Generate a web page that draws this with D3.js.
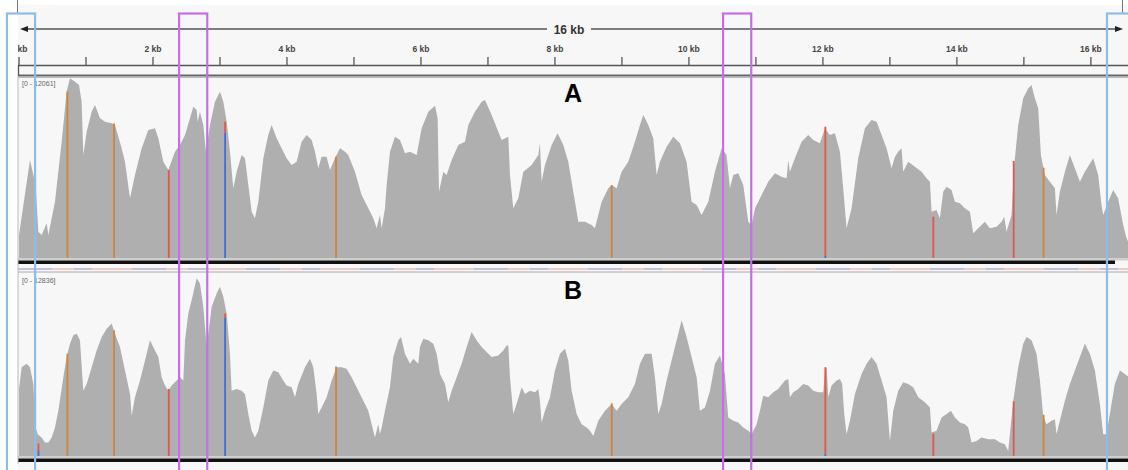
<!DOCTYPE html>
<html>
<head>
<meta charset="utf-8">
<title>mtDNA coverage A / B</title>
<script src="https://d3js.org/d3.v7.min.js"></script>
<style>
  body { margin: 0; background: #fff; font-family: 'Liberation Sans', Arial, sans-serif; }
  .tick-label { font-size: 8.5px; font-weight: bold; fill: #444; text-anchor: middle; }
  .span-label { font-size: 12px; font-weight: bold; fill: #333; text-anchor: middle; }
  .track-title { font-size: 25px; font-weight: bold; fill: #000; text-anchor: middle; }
  .range-label { font-size: 7px; fill: #666; }
  .cov { fill: #afafaf; }
</style>
</head>
<body>
<div id="chart"></div>
<script>
// genome length (bp) and ruler ticks
var genomeLength = 16569;
var tickKb = d3.range(0, 17);
var tickLabels = ["0 kb", "2 kb", "4 kb", "6 kb", "8 kb", "10 kb", "12 kb", "14 kb", "16 kb"];
var spanLabel = "16 kb";

var trackNames = ["A", "B"];
var trackRange = ["[0 - 12061]", "[0 - 12836]"];
var trackMax = [12061, 12836];

// coverage track A (position bp, depth)
var posA = [0, 164, 249, 289, 338, 413, 438, 537, 637, 711, 761, 836, 896, 935, 960, 1010, 1085, 1134, 1209, 1284,
  1383, 1433, 1532, 1582, 1657, 1731, 1831, 1930, 2030, 2080, 2154, 2229, 2328, 2403, 2478, 2552, 2602, 2652, 2667, 2701,
  2751, 2791, 2851, 2925, 3000, 3050, 3100, 3149, 3199, 3249, 3323, 3373, 3423, 3473, 3522, 3572, 3647, 3721, 3771, 3846,
  3920, 3995, 4070, 4144, 4219, 4294, 4368, 4418, 4468, 4517, 4592, 4642, 4716, 4791, 4866, 4915, 5015, 5114, 5214, 5289,
  5338, 5388, 5413, 5463, 5488, 5538, 5612, 5687, 5762, 5836, 5936, 6010, 6110, 6209, 6249, 6269, 6334, 6383, 6458, 6558,
  6657, 6707, 6806, 6906, 6956, 7055, 7155, 7204, 7304, 7329, 7378, 7453, 7528, 7652, 7752, 7776, 7801, 7851, 7951, 8040,
  8125, 8199, 8274, 8349, 8448, 8548, 8597, 8697, 8796, 8846, 8921, 8995, 9095, 9194, 9269, 9319, 9393, 9468, 9518, 9567,
  9667, 9766, 9866, 9965, 10040, 10115, 10189, 10289, 10388, 10488, 10562, 10612, 10662, 10736, 10811, 10886, 10936, 10986, 11085, 11184,
  11284, 11383, 11458, 11483, 11507, 11582, 11682, 11781, 11856, 11955, 12030, 12104, 12179, 12254, 12303, 12353, 12428, 12527, 12627, 12726,
  12801, 12876, 12950, 13025, 13075, 13124, 13174, 13199, 13273, 13373, 13473, 13547, 13597, 13622, 13696, 13746, 13796, 13846, 13920, 13970,
  14045, 14119, 14194, 14244, 14318, 14418, 14492, 14592, 14667, 14706, 14741, 14816, 14856, 14915, 14990, 15065, 15114, 15164, 15214, 15254,
  15313, 15388, 15463, 15487, 15537, 15612, 15686, 15761, 15836, 15910, 16035, 16109, 16159, 16184, 16258, 16333, 16407, 16482, 16532, 16569];
var covA = [1541, 6565, 4890, 1764, 1541, 2322, 1541, 3774, 7793, 11143, 12036, 11813, 11590, 10473, 6900, 8463, 9803, 10250, 9357, 9133,
  9021, 8910, 7347, 6453, 3997, 5560, 7347, 8575, 8686, 8016, 6453, 5895, 7123, 7570, 8240, 9357, 10138, 9915, 9133, 9803,
  8910, 7123, 8910, 10473, 11143, 10473, 9133, 7123, 4667, 5783, 6900, 6677, 4890, 3104, 2657, 3774, 6677, 8240, 8910, 8016,
  7347, 6677, 6230, 6453, 7793, 8240, 7905, 7123, 6007, 6788, 6788, 5895, 6677, 7347, 7123, 6900, 5783, 4220, 3327, 2657,
  1987, 2880, 1987, 3327, 4890, 7123, 8128, 7905, 7012, 7123, 6900, 8686, 9803, 10205, 9357, 4444, 5783, 5560, 6565, 7570,
  7793, 8910, 9803, 10473, 10584, 9580, 8463, 7905, 8128, 5560, 3327, 3997, 5783, 6230, 6900, 7682, 5114, 6230, 7570, 8351,
  7570, 6453, 4444, 2434, 2434, 2211, 1987, 3774, 4667, 4890, 4667, 5783, 6453, 7793, 8910, 9580, 8910, 8016, 5560, 6453,
  7458, 8128, 7682, 6453, 3774, 3550, 2880, 3774, 5783, 7347, 6900, 4667, 5560, 5672, 4890, 2434, 2211, 3327, 4220, 5114,
  5672, 5449, 5337, 6565, 5783, 6677, 7793, 8240, 7905, 7682, 8686, 8240, 8351, 7123, 4667, 1987, 3327, 6677, 8686, 9245,
  9133, 8240, 7347, 6007, 6788, 7123, 7347, 5783, 6453, 6118, 5783, 5337, 5114, 3104, 3216, 2657, 4444, 4779, 4555, 3774,
  3662, 3327, 3104, 1652, 1987, 2434, 1987, 2099, 2434, 2769, 1764, 2880, 6230, 8910, 10696, 11366, 11590, 10696, 10026, 6900,
  5560, 5114, 4667, 2880, 4444, 5783, 6900, 6007, 5114, 5783, 6677, 5560, 3550, 2880, 3774, 4555, 3997, 2211, 1317, 1000];

// coverage track B (position bp, depth)
var posB = [0, 40, 114, 164, 214, 249, 279, 338, 388, 438, 488, 537, 587, 662, 711, 761, 811, 861, 910, 960,
  1010, 1085, 1159, 1234, 1308, 1383, 1433, 1507, 1582, 1657, 1682, 1731, 1806, 1881, 1955, 2030, 2080, 2129, 2179, 2229,
  2279, 2353, 2403, 2453, 2478, 2527, 2577, 2652, 2701, 2751, 2801, 2876, 2950, 3000, 3050, 3100, 3149, 3174, 3249, 3323,
  3373, 3423, 3473, 3522, 3572, 3647, 3721, 3796, 3871, 3945, 3995, 4070, 4119, 4169, 4269, 4343, 4393, 4443, 4468, 4517,
  4592, 4667, 4741, 4816, 4890, 4965, 5065, 5164, 5214, 5264, 5313, 5363, 5388, 5413, 5463, 5537, 5587, 5662, 5702, 5762,
  5836, 5886, 5961, 5985, 6035, 6110, 6184, 6234, 6284, 6359, 6408, 6458, 6533, 6607, 6682, 6756, 6831, 6906, 6980, 7055,
  7155, 7229, 7279, 7304, 7329, 7378, 7428, 7503, 7552, 7627, 7702, 7752, 7776, 7801, 7851, 7926, 8000, 8075, 8150, 8199,
  8249, 8324, 8398, 8473, 8523, 8572, 8647, 8747, 8846, 8921, 8995, 9095, 9194, 9269, 9344, 9443, 9493, 9543, 9592, 9667,
  9766, 9841, 9891, 9965, 10040, 10115, 10164, 10239, 10314, 10388, 10463, 10537, 10587, 10662, 10736, 10811, 10886, 10936, 11010, 11060,
  11109, 11184, 11259, 11333, 11433, 11483, 11507, 11557, 11632, 11706, 11781, 11856, 11930, 12005, 12030, 12055, 12080, 12129, 12204, 12254,
  12288, 12318, 12353, 12403, 12478, 12577, 12652, 12726, 12801, 12876, 12950, 13000, 13050, 13124, 13199, 13273, 13348, 13423, 13522, 13597,
  13622, 13696, 13771, 13846, 13910, 13970, 14045, 14119, 14169, 14219, 14293, 14368, 14468, 14567, 14642, 14716, 14766, 14841, 14915, 14990,
  15040, 15114, 15189, 15239, 15288, 15338, 15413, 15463, 15487, 15537, 15612, 15686, 15761, 15836, 15910, 15985, 16060, 16134, 16184, 16234,
  16283, 16358, 16433, 16507, 16569];
var covB = [4754, 6299, 6537, 6299, 5111, 2020, 1545, 1307, 951, 951, 1307, 2020, 3209, 5586, 7012, 7963, 8557, 8676, 8201, 4635,
  5111, 6299, 7488, 8438, 9033, 9389, 8676, 7725, 6061, 4397, 2852, 4160, 5348, 6774, 8201, 7488, 7012, 5586, 4992, 4635,
  4992, 5348, 5586, 5348, 8201, 10102, 11053, 12598, 12242, 10578, 7725, 10578, 11528, 12004, 11291, 10102, 7250, 4635, 4754, 4635,
  4397, 2971, 1783, 1307, 1783, 3447, 5348, 6061, 5943, 5348, 4992, 4873, 4160, 5111, 6299, 6893, 6299, 4397, 2971, 3447,
  4160, 5348, 6299, 6299, 6180, 5586, 4635, 3684, 3209, 2258, 1307, 2258, 1545, 2020, 3209, 4873, 7012, 8201, 8438, 7250,
  6537, 6893, 6537, 7725, 8320, 8201, 7963, 7250, 5824, 5111, 3803, 4635, 5586, 6537, 7725, 8795, 8201, 7725, 7369, 7012,
  7131, 7488, 7844, 7844, 5586, 2971, 3684, 4873, 4397, 4635, 4516, 4754, 3922, 2377, 3209, 4160, 6061, 7250, 7606, 6774,
  4635, 2971, 2258, 2020, 1783, 1426, 2496, 3209, 3684, 3209, 3684, 4160, 5111, 6537, 7250, 7250, 5586, 2971, 3684, 5348,
  7250, 8676, 9627, 8438, 7012, 5586, 3209, 3447, 4635, 6537, 7131, 5824, 2734, 2496, 2377, 2020, 1783, 1545, 2258, 3209,
  4279, 4160, 4516, 4754, 5348, 5467, 4160, 4516, 4754, 5111, 4992, 4635, 4516, 4516, 6061, 6299, 4160, 4992, 5348, 5467,
  5111, 2971, 1545, 2496, 4397, 5824, 6537, 7012, 6537, 5348, 4160, 1070, 3209, 4635, 5229, 5111, 4873, 4160, 3803, 3447,
  1664, 1783, 2734, 2971, 3209, 2734, 2377, 2258, 2020, 951, 1070, 1307, 1189, 1189, 951, 832, 357, 3922, 6299, 7963,
  8438, 8201, 7250, 5348, 2852, 2258, 2496, 2615, 1545, 2496, 3922, 5111, 6061, 7012, 7963, 7250, 6061, 3684, 1545, 1545,
  2971, 5111, 6061, 5824, 5586];

// variant bars: position, allele colours (lower / upper part), depth in each track
var variantPos = [289, 721, 1418, 2234, 3075, 4731, 8846, 12035, 13647, 14846, 15293];
var variantBase = ["blue", "orange", "orange", "red", "blue", "orange", "orange", "blue", "red", "red", "orange"];
var variantTop = ["red", "orange", "orange", "red", "red", "orange", "orange", "red", "red", "red", "orange"];
var topFracA = [0.6, 1, 1, 1, 0.08, 1, 1, 0.98, 1, 1, 1];
var topFracB = [0.6, 1, 1, 1, 0.03, 1, 1, 0.98, 1, 1, 1];
var depthA = [0, 11143, 9021, 5895, 9133, 6788, 4890, 8798, 2769, 6498, 6051];
var depthB = [880, 7250, 8914, 4754, 10102, 6347, 3732, 6299, 1593, 3875, 2924];

// highlighted regions (bp)
var blueRegions = [[-180, 240], [16240, 16600]];
var purpleRegions = [[2390, 2810], [10510, 10930]];

var alleleColor = { orange: "#d1843e", red: "#e0574d", blue: "#3f6ed8" };

var W = 1128, H = 470;
var panelLeft = 18, panelRight = 1128;

var x = d3.scaleLinear().domain([0, genomeLength]).range([19, 1129]);

var tracks = [
  { name: trackNames[0], range: trackRange[0], max: trackMax[0], pos: posA, cov: covA, depth: depthA, frac: topFracA,
    top: 78, base: 258, lineEnd: 1115 },
  { name: trackNames[1], range: trackRange[1], max: trackMax[1], pos: posB, cov: covB, depth: depthB, frac: topFracB,
    top: 275, base: 456, lineEnd: 1128 }
];

var svg = d3.select("#chart").append("svg")
    .attr("width", W)
    .attr("height", H);

svg.append("defs").append("clipPath")
    .attr("id", "panelClip")
  .append("rect")
    .attr("x", panelLeft)
    .attr("y", 0)
    .attr("width", panelRight - panelLeft)
    .attr("height", H);

// background
svg.append("rect")
    .attr("x", panelLeft).attr("y", 5)
    .attr("width", panelRight - panelLeft).attr("height", H - 5)
    .attr("fill", "#f7f7f7");

// small window borders at the top
svg.append("line").attr("x1", 17.5).attr("x2", 17.5).attr("y1", 0).attr("y2", 14)
    .attr("stroke", "#777").attr("stroke-width", 1);
svg.append("line").attr("x1", 1122.5).attr("x2", 1122.5).attr("y1", 0).attr("y2", 14)
    .attr("stroke", "#777").attr("stroke-width", 1);

// ---- ruler ----
var ruler = svg.append("g").attr("clip-path", "url(#panelClip)");

ruler.append("line")
    .attr("x1", 22).attr("x2", 1120).attr("y1", 29).attr("y2", 29)
    .attr("stroke", "#555").attr("stroke-width", 1.5);
ruler.append("path")
    .attr("d", "M20,29 L28,26 L28,32 Z").attr("fill", "#222");
ruler.append("path")
    .attr("d", "M1123,29 L1115,26 L1115,32 Z").attr("fill", "#222");

var mid = x(genomeLength / 2) - 5;
ruler.append("rect")
    .attr("x", mid - 22).attr("y", 22).attr("width", 44).attr("height", 14)
    .attr("fill", "#f7f7f7");
ruler.append("text")
    .attr("class", "span-label")
    .attr("x", mid).attr("y", 33.5)
    .text(spanLabel);

ruler.selectAll(".tick-mark")
    .data(tickKb)
  .enter().append("line")
    .attr("class", "tick-mark")
    .attr("x1", d => x(d * 1000)).attr("x2", d => x(d * 1000))
    .attr("y1", 57).attr("y2", 65)
    .attr("stroke", "#555").attr("stroke-width", 1.3);

ruler.selectAll(".tick-label")
    .data(tickLabels)
  .enter().append("text")
    .attr("class", "tick-label")
    .attr("x", (d, i) => x(i * 2000))
    .attr("y", 51.5)
    .text(d => d);

// ruler box
ruler.append("line").attr("x1", panelLeft).attr("x2", panelRight).attr("y1", 65.5).attr("y2", 65.5)
    .attr("stroke", "#555").attr("stroke-width", 1.5);
ruler.append("line").attr("x1", panelLeft).attr("x2", panelRight).attr("y1", 75.5).attr("y2", 75.5)
    .attr("stroke", "#666").attr("stroke-width", 2);
svg.append("line").attr("x1", 18.5).attr("x2", 18.5).attr("y1", 65).attr("y2", 76)
    .attr("stroke", "#555").attr("stroke-width", 1.3);
svg.append("line").attr("x1", panelLeft).attr("x2", panelRight).attr("y1", 77.5).attr("y2", 77.5)
    .attr("stroke", "#bbb").attr("stroke-width", 1);

// ---- coverage tracks ----
tracks.forEach(function(t, ti) {
  var y = d3.scaleLinear().domain([0, t.max]).range([t.base, t.top]);
  var g = svg.append("g").attr("clip-path", "url(#panelClip)");

  var data = t.pos.map((p, i) => ({ pos: p, cov: t.cov[i] }));
  var area = d3.area()
      .x(d => x(d.pos))
      .y0(t.base)
      .y1(d => y(d.cov));

  g.append("path")
      .datum(data)
      .attr("class", "cov")
      .attr("d", area);

  // variant bars
  variantPos.forEach(function(p, i) {
    var dep = t.depth[i];
    if (!dep) return;
    var yTop = y(dep);
    var ySplit = t.base - (t.base - yTop) * (1 - t.frac[i]);
    g.append("rect")
        .attr("x", x(p) - 0.8).attr("width", 1.8)
        .attr("y", ySplit).attr("height", t.base - ySplit)
        .attr("fill", alleleColor[variantBase[i]]);
    g.append("rect")
        .attr("x", x(p) - 0.8).attr("width", 1.8)
        .attr("y", yTop).attr("height", ySplit - yTop)
        .attr("fill", alleleColor[variantTop[i]]);
  });

  // data range label
  g.append("text")
      .attr("class", "range-label")
      .attr("x", 22).attr("y", t.top + 8)
      .text(t.range);

  // track title
  svg.append("text")
      .attr("class", "track-title")
      .attr("x", 573).attr("y", t.top + 24)
      .text(t.name);

  // bottom lines
  g.append("rect")
      .attr("x", panelLeft).attr("y", t.base).attr("width", panelRight - panelLeft).attr("height", 2.5)
      .attr("fill", "#cfcfcf");
  g.append("rect")
      .attr("x", panelLeft).attr("y", t.base + 2.5).attr("width", t.lineEnd - panelLeft).attr("height", 3.5)
      .attr("fill", "#111");
});

// gene strip between the tracks
svg.append("line")
    .attr("x1", panelLeft).attr("x2", panelRight).attr("y1", 269).attr("y2", 269)
    .attr("stroke", "#e2a3a3").attr("stroke-width", 1.2);
svg.append("line")
    .attr("x1", panelLeft).attr("x2", panelRight).attr("y1", 269).attr("y2", 269)
    .attr("stroke", "#9fb2e6").attr("stroke-width", 1.2)
    .attr("stroke-dasharray", "34,22,18,40");
svg.append("line")
    .attr("x1", panelLeft).attr("x2", panelRight).attr("y1", 272).attr("y2", 272)
    .attr("stroke", "#aaa").attr("stroke-width", 1);

// left panel border
svg.append("line")
    .attr("x1", 18).attr("x2", 18).attr("y1", 76).attr("y2", 464)
    .attr("stroke", "#bbb").attr("stroke-width", 1);

// ---- highlight boxes ----
function drawBoxes(regions, colour) {
  svg.selectAll(null)
      .data(regions)
    .enter().append("rect")
      .attr("x", d => x(d[0]))
      .attr("y", 13.5)
      .attr("width", d => x(d[1]) - x(d[0]))
      .attr("height", 480)
      .attr("fill", "none")
      .attr("stroke", colour)
      .attr("stroke-width", 2.2);
}
drawBoxes(blueRegions, "#8fbbea");
drawBoxes(purpleRegions, "#c56cf0");
</script>
</body>
</html>
